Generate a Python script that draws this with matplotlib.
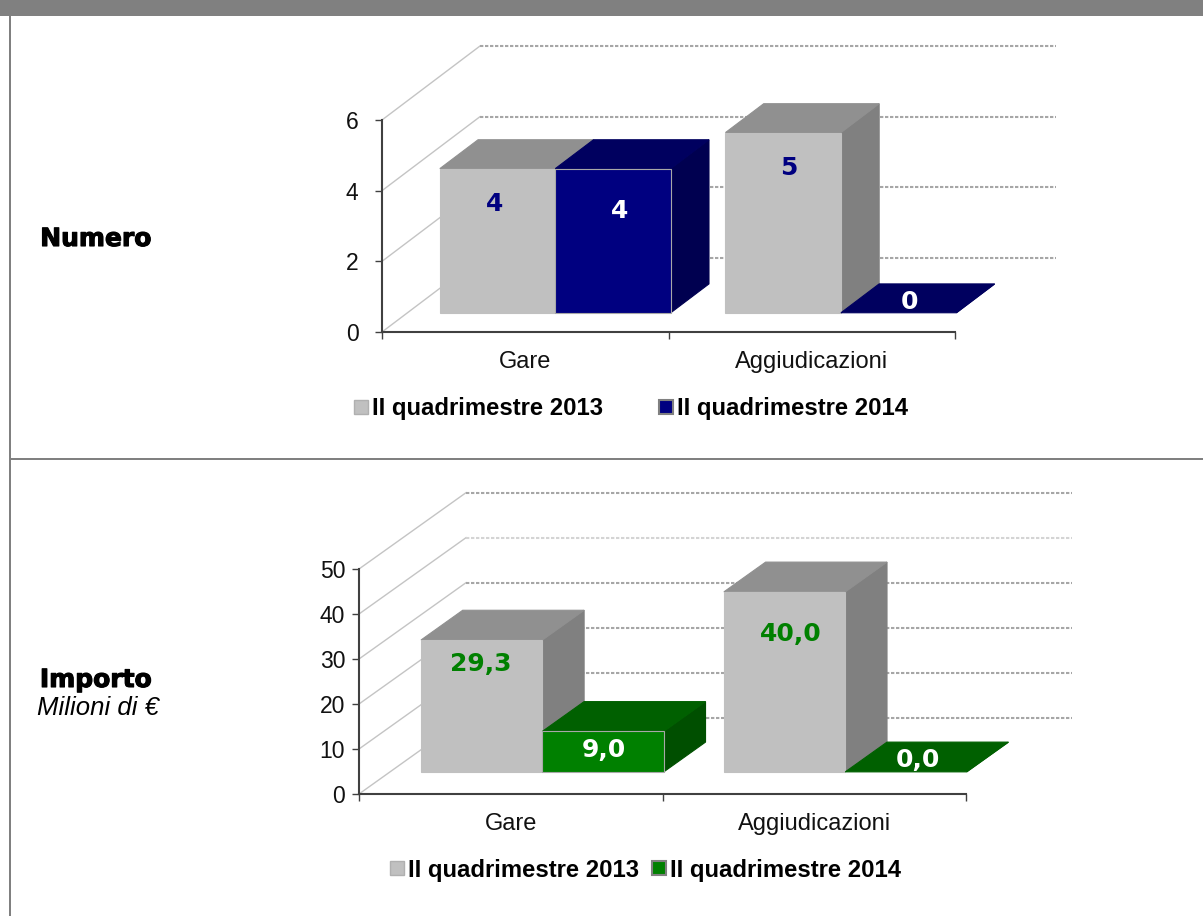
import matplotlib
matplotlib.use("Agg")
import matplotlib.pyplot as plt
import matplotlib.patheffects as pe
from matplotlib.patches import Polygon, Patch, Rectangle

W, H = 1203, 916

categories = ["Gare", "Aggiudicazioni"]
series_names = ["II quadrimestre 2013", "II quadrimestre 2014"]

numero_2013 = [4, 5]
numero_2014 = [4, 0]
numero_ticks = [0, 2, 4, 6]
numero_labels_2013 = ["4", "5"]
numero_labels_2014 = ["4", "0"]

importo_2013 = [29.3, 40.0]
importo_2014 = [9.0, 0.0]
importo_ticks = [0, 10, 20, 30, 40, 50]
importo_labels_2013 = ["29,3", "40,0"]
importo_labels_2014 = ["9,0", "0,0"]

GRAY = dict(front="#C0C0C0", side="#808080", top="#909090")
NAVY = dict(front="#000080", side="#000050", top="#00005F")
GREEN = dict(front="#008000", side="#004F00", top="#006000")
LABEL_FONT = "DejaVu Sans"
FONT = "Liberation Sans"

fig = plt.figure(figsize=(W / 100, H / 100), dpi=100, facecolor="white")


def px_axes(l, r, t, b):
    return fig.add_axes([l / W, 1 - b / H, (r - l) / W, (b - t) / H])


def face(ax, pts, color, edge=None, z=3):
    ax.add_patch(Polygon(pts, closed=True, facecolor=color, edgecolor=edge or color,
                         linewidth=0.8, clip_on=False, zorder=z, joinstyle="miter"))


def chart(ax, v1, v2, ticks, lab1, lab2, colors2, dx, dy, z0, z1, starts, width,
          k, lab_pos1, lab_pos2, lab_color, grid_end, tick_pad, light=()):
    top = ticks[-1]
    ax.set_xlim(0, 2)
    ax.set_ylim(0, top)
    ax.patch.set_visible(False)
    for s in ("top", "right"):
        ax.spines[s].set_visible(False)
    for s in ("left", "bottom"):
        ax.spines[s].set_color("#404040")
        ax.spines[s].set_linewidth(1.5)
    ax.set_xticks([0, 1, 2])
    ax.set_xticklabels([])
    ax.set_xticks([0.5, 1.5], minor=True)
    ax.set_xticklabels(categories, minor=True, fontfamily=FONT, fontsize=17, color="#111111")
    ax.tick_params(axis="x", which="major", length=5, width=1, color="#404040")
    ax.tick_params(axis="x", which="minor", length=0, pad=14)
    ax.set_yticks(ticks)
    ax.set_yticklabels([str(t) for t in ticks], fontfamily=FONT, fontsize=16.5, color="#111111")
    ax.tick_params(axis="y", length=5, width=1, color="#404040", pad=tick_pad)

    for t in ticks:
        ax.plot([0, dx], [t, t + dy], color="#C4C4C4", lw=1, clip_on=False, zorder=1)
        c = "#D4D4D4" if t in light else "#A6A6A6"
        ax.plot([dx, grid_end], [t + dy, t + dy], color=c, lw=1.5, ls=(0, (1.6, 0.8)),
                clip_on=False, zorder=1)

    y0 = z0 * dy
    y1 = z1 * dy
    x0 = z0 * dx
    x1 = z1 * dx
    z = 3
    for i in range(2):
        for j, (vals, col) in enumerate(((v1, GRAY), (v2, colors2))):
            xa = starts[i] + x0 + j * width
            xb = xa + width
            h = vals[i] * k
            edge = "#A8A8A8" if j == 1 and vals[i] > 0 else None
            face(ax, [(xb, y0), (xb + x1 - x0, y1), (xb + x1 - x0, y1 + h), (xb, y0 + h)],
                 col["side"], z=z)
            face(ax, [(xa, y0 + h), (xa + x1 - x0, y1 + h), (xb + x1 - x0, y1 + h), (xb, y0 + h)],
                 col["top"], z=z + 0.1)
            if h > 0:
                face(ax, [(xa, y0), (xb, y0), (xb, y0 + h), (xa, y0 + h)], col["front"],
                     edge=edge, z=z + 0.2)
            z += 1

    for i in range(2):
        ax.text(*lab_pos1[i], lab1[i], color=lab_color, ha="center", va="center",
                fontfamily=LABEL_FONT, fontweight="bold", fontsize=18, zorder=20, clip_on=False)
        ax.text(*lab_pos2[i], lab2[i], color="white", ha="center", va="center",
                fontfamily=LABEL_FONT, fontweight="bold", fontsize=18, zorder=20, clip_on=False)


ax1 = px_axes(382, 955, 120, 332)
chart(ax1, numero_2013, numero_2014, numero_ticks, numero_labels_2013, numero_labels_2014,
      NAVY, dx=0.342, dy=2.094, z0=0.26, z1=0.65, starts=[0.113, 1.11], width=0.403, k=1.02,
      lab_pos1=[(0.392, 3.62), (1.42, 4.65)], lab_pos2=[(0.83, 3.42), (1.84, 0.85)],
      lab_color="#000080", grid_end=2.352, tick_pad=12)

ax2 = px_axes(359, 966, 569, 794)
chart(ax2, importo_2013, importo_2014, importo_ticks, importo_labels_2013, importo_labels_2014,
      GREEN, dx=0.3526, dy=16.96, z0=0.29, z1=0.68, starts=[0.102, 1.10], width=0.4, k=1.0,
      lab_pos1=[(0.402, 28.8), (1.424, 35.5)], lab_pos2=[(0.807, 9.8), (1.84, 7.6)],
      lab_color="#008000", grid_end=2.35, tick_pad=5, light=(40,))


def legend(ax, col2, x, y, sp):
    hs = [Patch(facecolor=GRAY["front"], edgecolor="#B0B0B0"),
          Patch(facecolor=col2, edgecolor="#808080", linewidth=1.5)]
    ax.legend(hs, series_names, loc="center left", bbox_to_anchor=(x / W, 1 - y / H),
              bbox_transform=fig.transFigure, ncol=2, frameon=False, borderpad=0, borderaxespad=0,
              handlelength=0.58, handleheight=0.58, handletextpad=0.18, columnspacing=sp,
              prop=dict(family=FONT, weight="bold", size=17.2))


legend(ax1, NAVY["front"], 354, 409, 2.35)
legend(ax2, GREEN["front"], 390, 870, 0.55)

# panel frame
bg = fig.add_axes([0, 0, 1, 1], zorder=-1)
bg.set_xlim(0, W)
bg.set_ylim(H, 0)
bg.axis("off")
bg.add_patch(Rectangle((0, 0), W, 16, color="#808080", lw=0))
bg.add_patch(Rectangle((9, 16), 2, H - 16, color="#808080", lw=0))
bg.add_patch(Rectangle((9, 458), W - 9, 2, color="#808080", lw=0))
heavy = [pe.withStroke(linewidth=0.8, foreground="black")]
bg.text(96, 239, "Numero", ha="center", va="center", fontfamily="DejaVu Sans", fontweight="bold",
        fontsize=18, color="black", path_effects=heavy)
bg.text(96, 680, "Importo", ha="center", va="center", fontfamily="DejaVu Sans", fontweight="bold",
        fontsize=18, color="black", path_effects=heavy)
bg.text(98, 708, "Milioni di €", ha="center", va="center", fontfamily=FONT, style="italic",
        fontsize=18.5, color="black")

fig.savefig("out.png", dpi=100)
